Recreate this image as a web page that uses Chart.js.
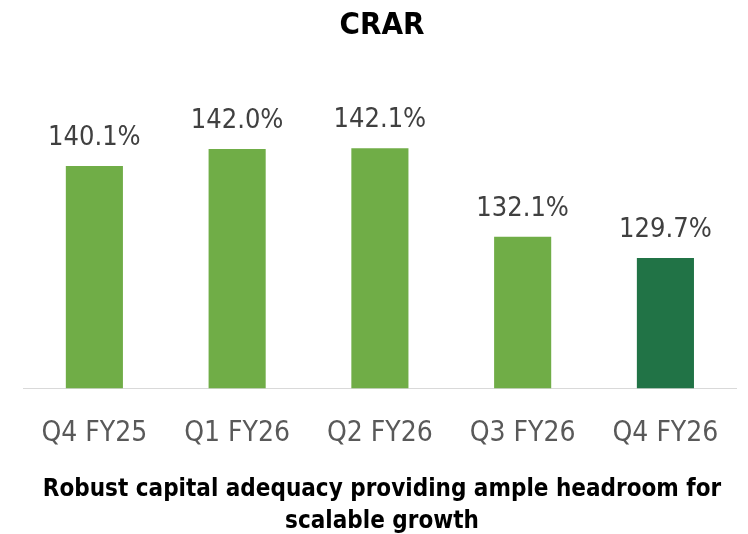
<!DOCTYPE html>
<html>
<head>
<meta charset="utf-8">
<script src="https://cdn.jsdelivr.net/npm/chart.js"></script>
<style>
  html, body { margin: 0; padding: 0; background: #fff; }
  canvas { display: block; }
</style>
</head>
<body>
<canvas id="crar" width="748" height="534"></canvas>
<script>
// chart data
const quarters = ['Q4 FY25', 'Q1 FY26', 'Q2 FY26', 'Q3 FY26', 'Q4 FY26'];
const crarValues = [140.1, 142.0, 142.1, 132.1, 129.7];
const barColors = ['#70ad47', '#70ad47', '#70ad47', '#70ad47', '#217346'];
const chartTitle = 'CRAR';
const footerLines = ['Robust capital adequacy providing ample headroom for', 'scalable growth'];

const FONT = "'Liberation Sans Narrow', 'DejaVu Sans Condensed', 'Liberation Sans', sans-serif";

// value labels above each bar
const barLabels = {
    id: 'barLabels',
    afterDatasetsDraw(chart) {
        const ctx = chart.ctx;
        const meta = chart.getDatasetMeta(0);
        ctx.save();
        ctx.font = '27px ' + FONT;
        ctx.fillStyle = '#404040';
        ctx.textAlign = 'center';
        ctx.textBaseline = 'middle';
        meta.data.forEach((bar, i) => {
            ctx.fillText(crarValues[i].toFixed(1) + '%', bar.x, bar.y - 28);
        });
        ctx.restore();
    }
};

new Chart(document.getElementById('crar'), {
    type: 'bar',
    data: {
        labels: quarters,
        datasets: [{
            data: crarValues,
            backgroundColor: barColors,
            barPercentage: 0.4,
            categoryPercentage: 1.0
        }]
    },
    options: {
        responsive: false,
        animation: false,
        layout: {
            padding: { left: 23, right: 7, top: 0, bottom: -4 }
        },
        scales: {
            x: {
                grid: { display: false, drawTicks: false },
                border: { display: true, color: '#d9d9d9', width: 1 },
                ticks: {
                    color: '#595959',
                    padding: 29,
                    font: { family: FONT, size: 28 }
                },
                // fixed axis band so the baseline lands where the original has it
                afterFit: (scale) => { scale.height = 61; }
            },
            y: {
                display: false,
                min: 115,
                max: 150
            }
        },
        plugins: {
            legend: { display: false },
            tooltip: { enabled: false },
            title: {
                display: true,
                text: chartTitle,
                color: '#000',
                font: { family: FONT, size: 31, weight: 'bold' },
                padding: { top: 7, bottom: 34 }
            },
            subtitle: {
                display: true,
                position: 'bottom',
                text: footerLines,
                color: '#000',
                font: { family: FONT, size: 24, weight: 'bold', lineHeight: 1.35 },
                padding: { top: 24, bottom: 0 }
            }
        }
    },
    plugins: [barLabels]
});
</script>
</body>
</html>
